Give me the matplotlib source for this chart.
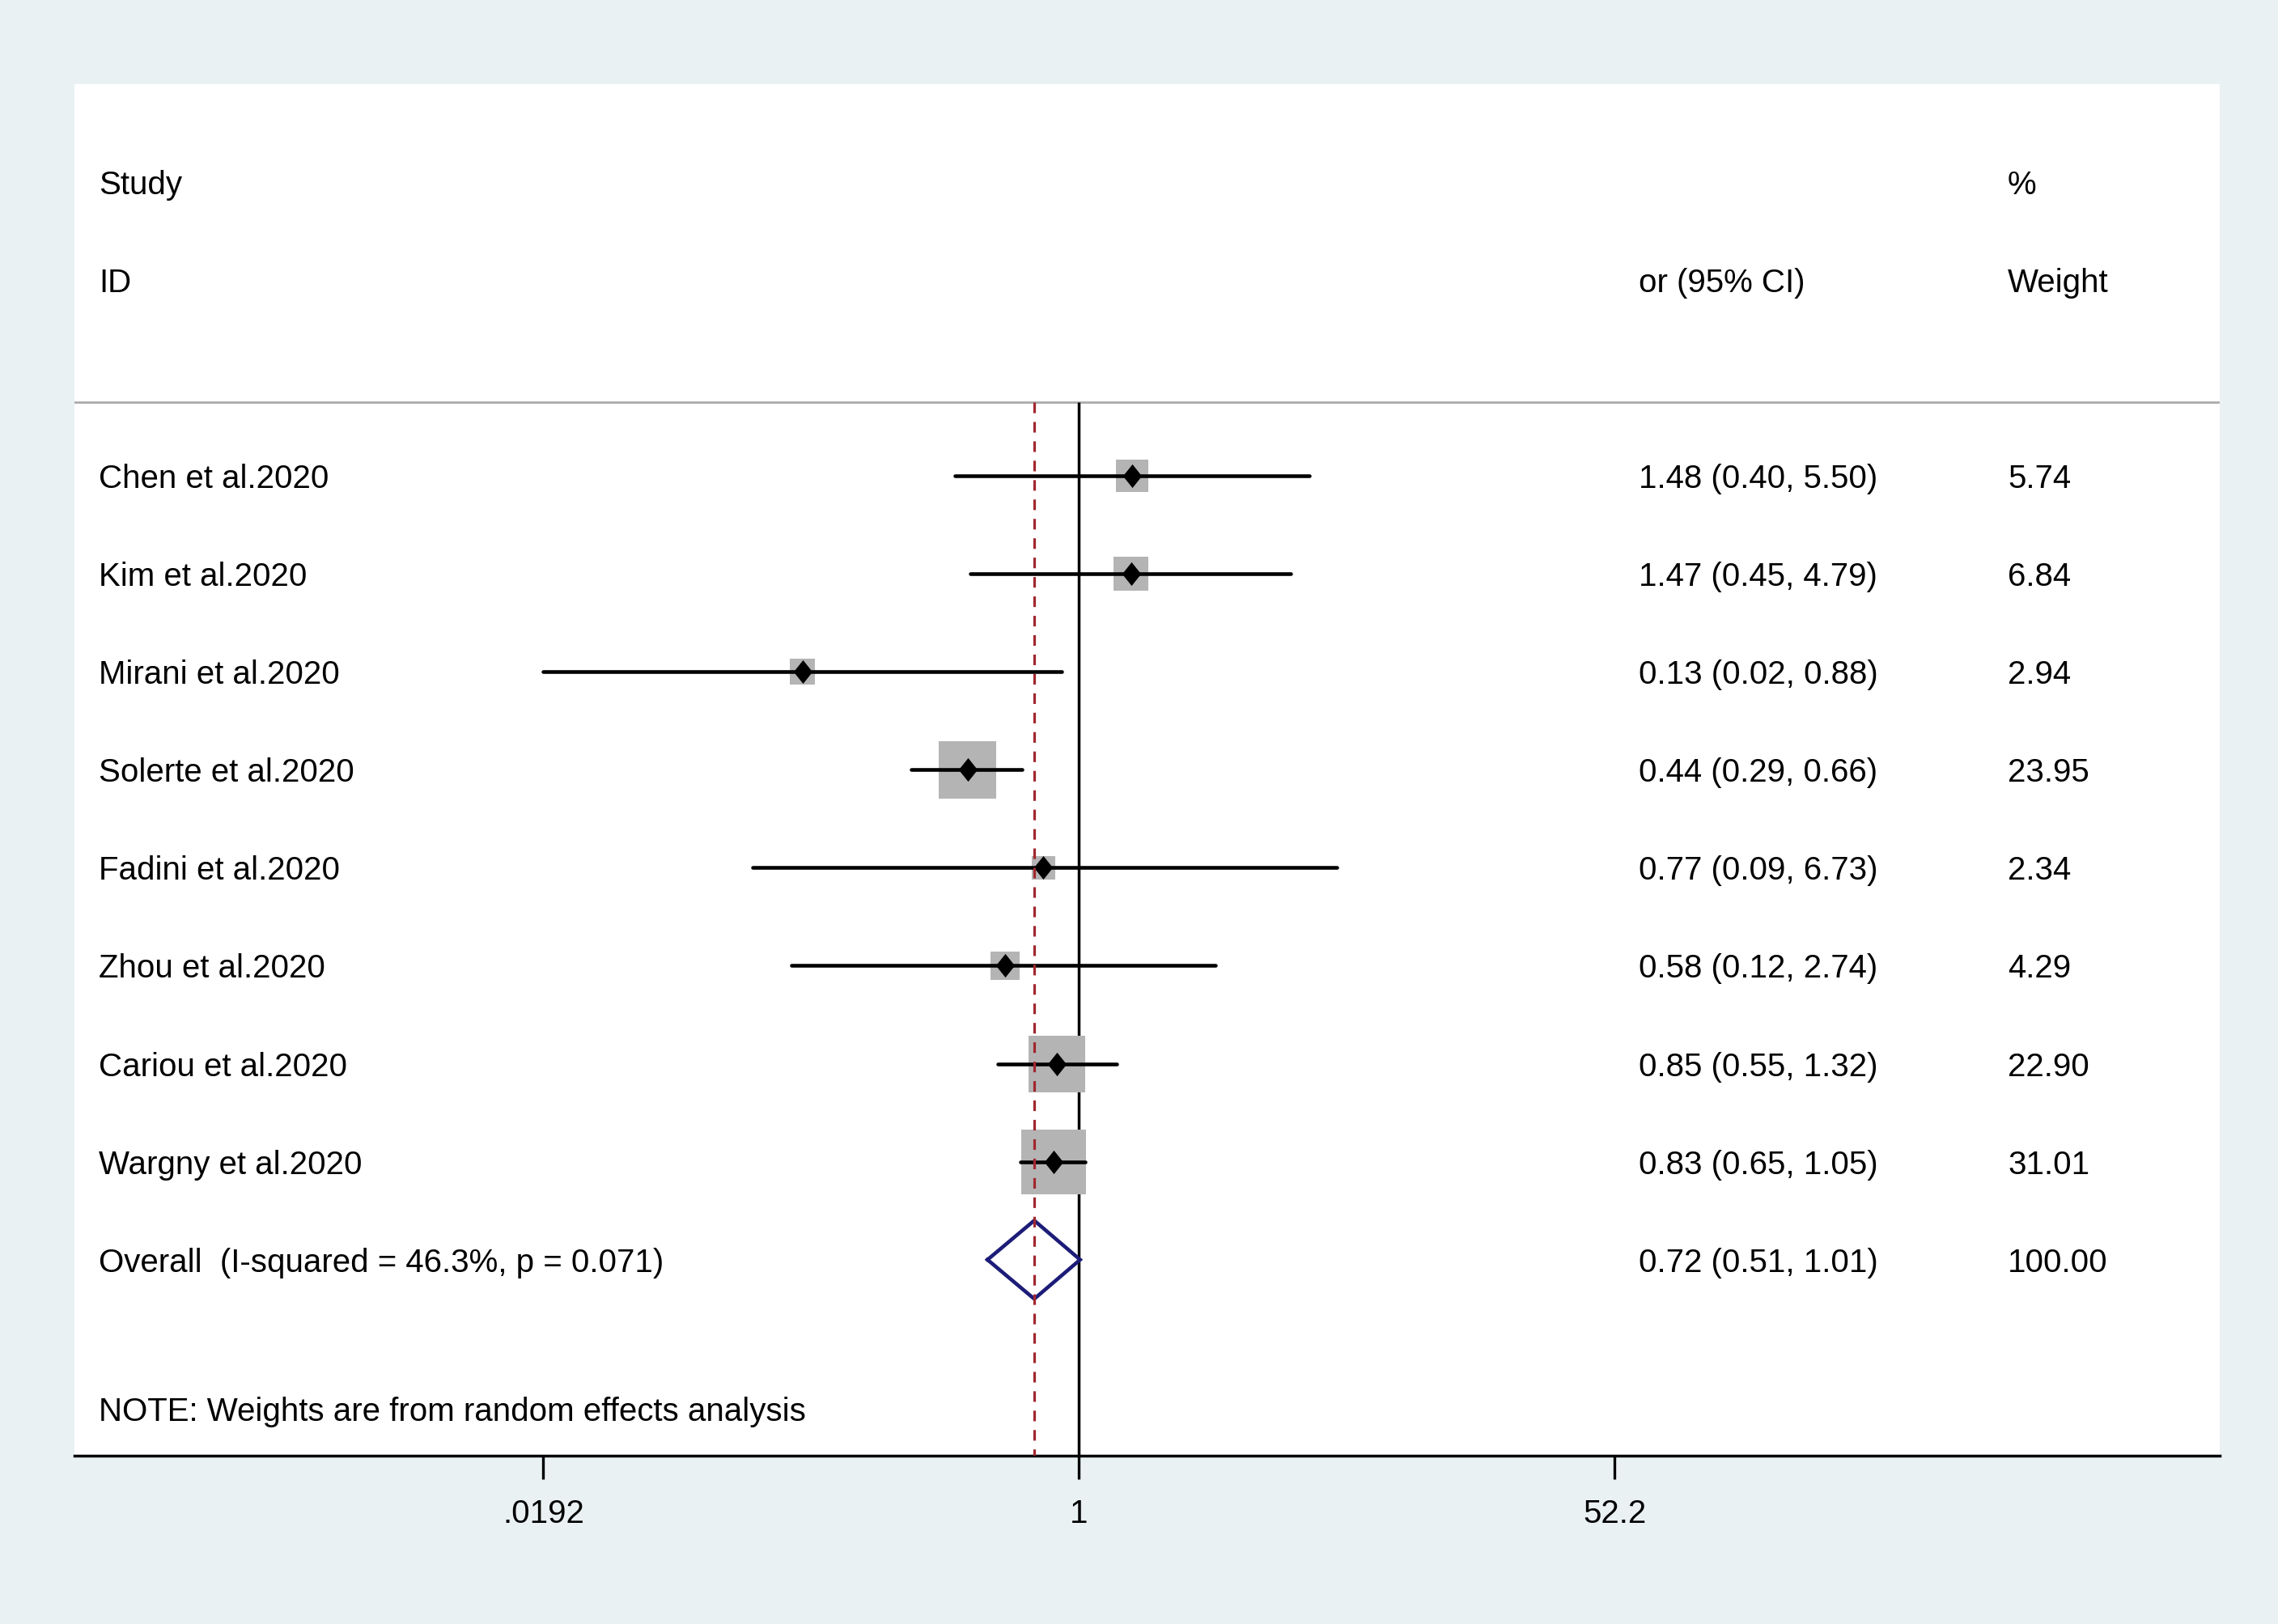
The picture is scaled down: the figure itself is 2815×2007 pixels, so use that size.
import numpy as np
import matplotlib
matplotlib.use("Agg")
import matplotlib.pyplot as plt
from matplotlib.transforms import blended_transform_factory
from matplotlib.path import Path

# ---------------- data ----------------
studies = ["Chen et al.2020", "Kim et al.2020", "Mirani et al.2020", "Solerte et al.2020",
           "Fadini et al.2020", "Zhou et al.2020", "Cariou et al.2020", "Wargny et al.2020"]
odds = [1.48, 1.47, 0.13, 0.44, 0.77, 0.58, 0.85, 0.83]
lower = [0.40, 0.45, 0.0192, 0.29, 0.09, 0.12, 0.55, 0.65]
upper = [5.50, 4.79, 0.88, 0.66, 6.73, 2.74, 1.32, 1.05]
weights = [5.74, 6.84, 2.94, 23.95, 2.34, 4.29, 22.90, 31.01]

overall_label = "Overall  (I-squared = 46.3%, p = 0.071)"
overall_or, overall_lo, overall_hi, overall_w = 0.72, 0.51, 1.01, 100.00

xticks = [0.0192, 1, 52.2]
xtick_labels = [".0192", "1", "52.2"]
note = "NOTE: Weights are from random effects analysis"

# ---------------- style ----------------
plt.rcParams['font.family'] = ['Liberation Sans', 'DejaVu Sans']
FS = 29
BG = '#e9f1f3'
DPI = 100

fig = plt.figure(figsize=(28.15, 20.07), dpi=DPI, facecolor=BG)
ax = fig.add_axes([0.03268, 0.10364, 0.94174, 0.84474])
ax.set_facecolor('white')
ax.set_xscale('log')
ax.set_xlim(6.03e-4, 4548)
ax.set_ylim(10, -4)

for s in ['top', 'left', 'right']:
    ax.spines[s].set_visible(False)
ax.spines['bottom'].set_linewidth(2.5)
ax.spines['bottom'].set_color('black')
ax.set_yticks([])
ax.set_xticks(xticks)
ax.set_xticklabels(xtick_labels, fontsize=FS)
ax.xaxis.set_minor_locator(matplotlib.ticker.NullLocator())
ax.tick_params(axis='x', length=21, width=2.4, pad=17, direction='out', color='black')

ypos = np.arange(len(studies))
y_over = len(studies)
y_hdr_line = -0.75

# header line
ax.axhline(y_hdr_line, color='#ababab', lw=2.0, zorder=1)
# null line and overall dashed line
ax.plot([1, 1], [y_hdr_line, 10], color='black', lw=2.5, zorder=2, solid_capstyle='butt')
ax.plot([overall_or, overall_or], [y_hdr_line, 10], color='#a2272f', lw=2.3,
        dashes=(4.1, 3.4), zorder=6)

# weight boxes (side in px = a + b*sqrt(w))
side_px = 9.8 + 12.6 * np.sqrt(np.array(weights))
side_pt = side_px * 72.0 / DPI
ax.scatter(odds, ypos, s=side_pt ** 2, marker='s', color='#b4b4b4', linewidths=0, zorder=3)

# CI lines
ax.hlines(ypos, lower, upper, color='black', lw=3.3, zorder=4, capstyle='round')

# point estimate diamonds
dmark = Path([(0, 1), (0.8, 0), (0, -1), (-0.8, 0), (0, 1)],
             [Path.MOVETO, Path.LINETO, Path.LINETO, Path.LINETO, Path.CLOSEPOLY])
ax.plot(odds, ypos, linestyle='none', marker=dmark, markersize=21, color='black',
        markeredgewidth=0, zorder=5)

# overall diamond
h = 0.4
ax.plot([overall_lo, overall_or, overall_hi, overall_or, overall_lo],
        [y_over, y_over - h, y_over, y_over + h, y_over],
        color='#1c1c78', lw=3.3, zorder=5, solid_joinstyle='miter')

# ---------------- text ----------------
tr = blended_transform_factory(ax.transAxes, ax.transData)
X_NAME, X_CI, X_W = 0.01132, 0.7292, 0.9012
kw = dict(transform=tr, fontsize=FS, va='center_baseline', ha='left', color='black')

ax.text(X_NAME, -3, "Study", **kw)
ax.text(X_NAME, -2, "ID", **kw)
ax.text(X_CI, -2, "or (95% CI)", **kw)
ax.text(X_W, -3, "%", **kw)
ax.text(X_W, -2, "Weight", **kw)

for i, name in enumerate(studies):
    ax.text(X_NAME, i, name, **kw)
    ax.text(X_CI, i, f"{odds[i]:.2f} ({lower[i]:.2f}, {upper[i]:.2f})", **kw)
    ax.text(X_W, i, f"{weights[i]:.2f}", **kw)

ax.text(X_NAME, y_over, overall_label, **kw)
ax.text(X_CI, y_over, f"{overall_or:.2f} ({overall_lo:.2f}, {overall_hi:.2f})", **kw)
ax.text(X_W, y_over, f"{overall_w:.2f}", **kw)

ax.text(X_NAME, 9.52, note, **kw)

fig.savefig("out.png", dpi=DPI, facecolor=BG)
